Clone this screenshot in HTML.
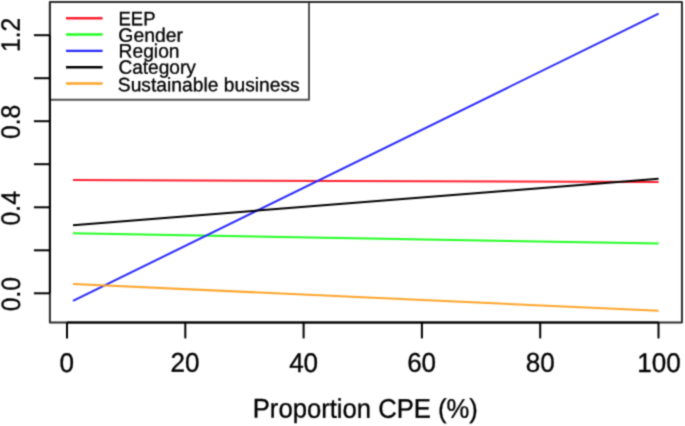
<!DOCTYPE html>
<html><head><meta charset="utf-8"><style>
html,body{margin:0;padding:0;background:#fff;width:685px;height:426px;overflow:hidden}
svg{display:block;will-change:transform}
text{font-family:"Liberation Sans",sans-serif;text-rendering:geometricPrecision;fill:#000;stroke:#000}
</style></head><body>
<svg width="685" height="426" viewBox="0 0 685 426">
<defs><filter id="bl" color-interpolation-filters="sRGB" filterUnits="userSpaceOnUse" x="0" y="0" width="685" height="426"><feConvolveMatrix order="3" kernelMatrix="0.0361 0.1178 0.0361 0.1178 0.3846 0.1178 0.0361 0.1178 0.0361" edgeMode="duplicate"/></filter></defs>
<g filter="url(#bl)">
<rect x="0" y="0" width="685" height="426" fill="#fff"/>
<g fill="none" stroke-width="2.0" stroke-linecap="butt">
<line x1="73.0" y1="180.1" x2="658.6" y2="182.1" stroke="#ff2030"/>
<line x1="73.0" y1="233.3" x2="658.6" y2="243.6" stroke="#22ff22"/>
<line x1="73.0" y1="300.95" x2="658.6" y2="13.6" stroke="#2828ff"/>
<line x1="73.0" y1="225.2" x2="658.6" y2="178.7" stroke="#000000"/>
<line x1="73.0" y1="284.0" x2="658.6" y2="310.8" stroke="#ffa52a"/>
</g>
<rect x="49.9" y="2.0" width="259.10" height="97.80" fill="#fff" stroke="#525252" stroke-width="2.0" stroke-linejoin="round"/>
<rect x="49.9" y="2.0" width="632.05" height="320.40" fill="none" stroke="#2d2d2d" stroke-width="2.0" stroke-linejoin="round"/>
<g stroke="#000" stroke-width="2.0" fill="none">
<line x1="67" y1="322.4" x2="658.5" y2="322.4"/>
<line x1="67" y1="322.4" x2="67" y2="338.40"/>
<line x1="185.3" y1="322.4" x2="185.3" y2="338.40"/>
<line x1="303.6" y1="322.4" x2="303.6" y2="338.40"/>
<line x1="421.9" y1="322.4" x2="421.9" y2="338.40"/>
<line x1="540.2" y1="322.4" x2="540.2" y2="338.40"/>
<line x1="658.5" y1="322.4" x2="658.5" y2="338.40"/>
<line x1="49.9" y1="293.3" x2="49.9" y2="35.2"/>
<line x1="33.90" y1="293.3" x2="49.9" y2="293.3"/>
<line x1="33.90" y1="250.3" x2="49.9" y2="250.3"/>
<line x1="33.90" y1="207.3" x2="49.9" y2="207.3"/>
<line x1="33.90" y1="164.2" x2="49.9" y2="164.2"/>
<line x1="33.90" y1="121.2" x2="49.9" y2="121.2"/>
<line x1="33.90" y1="78.2" x2="49.9" y2="78.2"/>
<line x1="33.90" y1="35.2" x2="49.9" y2="35.2"/>
</g>
<g stroke-width="2.4" fill="none">
<line x1="66" y1="18.20" x2="102.6" y2="18.20" stroke="#ff2030"/>
<line x1="66" y1="34.53" x2="102.6" y2="34.53" stroke="#22ff22"/>
<line x1="66" y1="50.86" x2="102.6" y2="50.86" stroke="#2828ff"/>
<line x1="66" y1="67.19" x2="102.6" y2="67.19" stroke="#000000"/>
<line x1="66" y1="83.52" x2="102.6" y2="83.52" stroke="#ffa52a"/>
</g>
<text transform="translate(118.52,25.31) rotate(0.05) scale(0.9700,1.0117)" font-size="19.10" stroke-width="0.3">EEP</text>
<text transform="translate(118.32,41.67) rotate(0.05) scale(1.0142,1.0117)" font-size="19.10" stroke-width="0.3">Gender</text>
<text transform="translate(118.59,57.45) rotate(0.05) scale(1.0071,1.0117)" font-size="19.10" stroke-width="0.3">Region</text>
<text transform="translate(118.40,73.67) rotate(0.05) scale(1.0000,1.0117)" font-size="19.10" stroke-width="0.3">Category</text>
<text transform="translate(117.83,91.23) rotate(0.05) scale(1.0081,1.0117)" font-size="19.10" stroke-width="0.3">Sustainable business</text>
<text transform="translate(66.83,371.94) rotate(0.05) scale(1.0172,1.0589)" font-size="25.60" stroke-width="0.3" text-anchor="middle">0</text>
<text transform="translate(185.07,371.84) rotate(0.05) scale(1.0172,1.0589)" font-size="25.60" stroke-width="0.3" text-anchor="middle">20</text>
<text transform="translate(303.61,372.00) rotate(0.05) scale(1.0172,1.0589)" font-size="25.60" stroke-width="0.3" text-anchor="middle">40</text>
<text transform="translate(421.61,371.80) rotate(0.05) scale(1.0172,1.0589)" font-size="25.60" stroke-width="0.3" text-anchor="middle">60</text>
<text transform="translate(540.16,371.80) rotate(0.05) scale(1.0172,1.0589)" font-size="25.60" stroke-width="0.3" text-anchor="middle">80</text>
<text transform="translate(658.89,372.03) rotate(0.05) scale(1.0172,1.0589)" font-size="25.60" stroke-width="0.3" text-anchor="middle">100</text>
<text transform="translate(20.01,294.18) rotate(-89.95) scale(0.9905,1.0660)" font-size="24.90" stroke-width="0.3" text-anchor="middle">0.0</text>
<text transform="translate(19.79,208.26) rotate(-89.95) scale(0.9905,1.0660)" font-size="24.90" stroke-width="0.3" text-anchor="middle">0.4</text>
<text transform="translate(19.70,121.94) rotate(-89.95) scale(0.9905,1.0660)" font-size="24.90" stroke-width="0.3" text-anchor="middle">0.8</text>
<text transform="translate(19.64,34.83) rotate(-89.95) scale(0.9905,1.0660)" font-size="24.90" stroke-width="0.3" text-anchor="middle">1.2</text>
<text transform="translate(252.78,417.59) rotate(0.05) scale(0.9989,1.0477)" font-size="25.67" stroke-width="0.3">Proportion CPE (%)</text>
</g>
</svg>
</body></html>
